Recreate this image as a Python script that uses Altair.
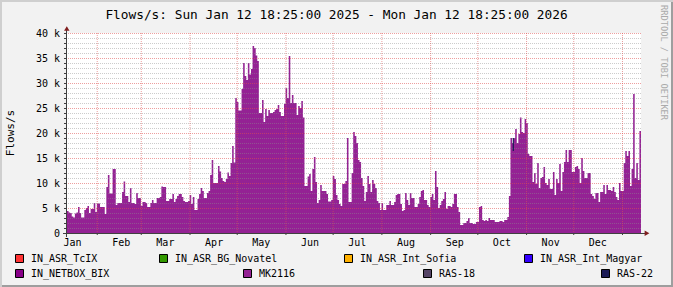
import altair as alt
import pandas as pd

# ---------------- data ----------------
TITLE = "Flows/s: Sun Jan 12 18:25:00 2025 - Mon Jan 12 18:25:00 2026"
Y_TITLE = "Flows/s"
WATERMARK = "RRDTOOL / TOBI OETIKER"

series_names = ["IN_ASR_TcIX", "IN_ASR_BG_Novatel", "IN_ASR_Int_Sofia", "IN_ASR_Int_Magyar",
                "IN_NETBOX_BIX", "MK2116", "RAS-18", "RAS-22"]
series_colors = ["#ff3333", "#339900", "#ffb000", "#3300ff",
                 "#880088", "#942294", "#554466", "#1a1a55"]

month_labels = ["Jan", "Feb", "Mar", "Apr", "May", "Jun",
                "Jul", "Aug", "Sep", "Oct", "Nov", "Dec"]
month_starts = ["2025-02-01T00:00:00", "2025-03-01T00:00:00", "2025-04-01T00:00:00",
                "2025-05-01T00:00:00", "2025-06-01T00:00:00", "2025-07-01T00:00:00",
                "2025-08-01T00:00:00", "2025-09-01T00:00:00", "2025-10-01T00:00:00",
                "2025-11-01T00:00:00", "2025-12-01T00:00:00", "2026-01-01T00:00:00"]
y_tick_k = [0, 5, 10, 15, 20, 25, 30, 35, 40]
y_tick_labels = ["0", "5 k", "10 k", "15 k", "20 k", "25 k", "30 k", "35 k", "40 k"]

# daily flows/s (thousands) for MK2116, starting Sun Jan 12 18:25 2025
mk2116_k = [
    4.4, 4.1, 4.0, 3.3, 3.1, 3.9, 4.1, 5.2, 4.0, 3.1, 3.1, 4.6, 5.0, 5.4, 4.0, 4.8,
    4.8, 6.0, 4.2, 5.9, 5.9, 5.2, 5.2, 5.2, 3.8, 9.2, 11.6, 7.9, 7.9, 12.8, 12.8, 5.6,
    6.0, 6.0, 6.0, 8.2, 10.3, 7.4, 7.4, 6.2, 9.0, 6.0, 6.0, 5.8, 8.0, 7.0, 7.0, 5.4,
    6.2, 6.2, 6.0, 5.2, 5.2, 6.0, 6.6, 6.0, 6.0, 7.0, 7.0, 7.2, 9.3, 9.2, 9.2, 6.4,
    6.4, 6.8, 6.8, 7.8, 6.2, 6.8, 7.4, 7.8, 7.8, 7.2, 6.4, 6.2, 6.2, 6.4, 7.6, 5.8,
    7.2, 4.6, 4.6, 6.8, 7.8, 9.0, 8.4, 7.0, 7.0, 8.0, 8.4, 11.6, 14.6, 10.0, 10.0, 10.0,
    13.4, 12.3, 11.0, 10.4, 10.2, 10.8, 12.1, 11.4, 14.0, 17.4, 14.1, 27.0, 26.2, 24.5, 24.5, 28.8,
    34.0, 31.4, 30.6, 34.0, 31.7, 32.8, 37.4, 37.0, 35.5, 34.4, 24.0, 24.0, 26.6, 22.2, 24.8, 23.4,
    24.6, 24.0, 24.0, 24.2, 24.6, 24.8, 25.6, 24.2, 23.4, 23.4, 25.8, 29.0, 27.0, 35.4, 26.0, 27.6,
    26.0, 26.0, 23.6, 25.4, 25.0, 26.4, 23.1, 9.4, 9.4, 11.3, 11.8, 8.4, 12.8, 15.2, 10.2, 6.0,
    6.6, 9.6, 8.4, 8.4, 8.4, 7.8, 6.3, 6.3, 6.6, 11.4, 10.8, 7.6, 6.6, 5.8, 5.4, 9.8,
    9.8, 10.4, 19.0, 6.2, 6.2, 12.0, 20.2, 19.4, 18.0, 14.6, 14.2, 11.0, 9.4, 6.4, 8.2, 11.4,
    9.8, 8.2, 10.6, 9.8, 9.0, 6.4, 6.0, 4.6, 6.0, 4.6, 4.6, 5.6, 5.6, 6.4, 5.6, 5.6,
    6.2, 7.6, 7.8, 7.8, 5.8, 4.4, 4.6, 8.0, 6.6, 5.6, 8.0, 7.0, 7.0, 5.2, 5.2, 5.8,
    7.2, 8.4, 8.6, 6.6, 6.6, 5.6, 5.2, 7.2, 7.8, 6.6, 12.4, 9.2, 5.0, 5.6, 6.4, 6.8,
    8.2, 4.8, 5.4, 5.4, 5.2, 5.8, 7.8, 7.8, 5.2, 4.2, 1.6, 1.6, 2.0, 2.0, 2.4, 3.0,
    2.0, 2.0, 1.8, 1.8, 2.2, 2.2, 5.2, 5.4, 2.6, 2.4, 2.6, 2.4, 3.0, 2.6, 2.6, 2.6,
    2.2, 2.2, 2.2, 2.4, 2.4, 2.2, 2.6, 2.6, 3.2, 7.4, 19.0, 18.0, 19.0, 20.8, 18.0, 19.8,
    23.1, 20.2, 20.0, 22.8, 22.0, 15.8, 15.4, 15.4, 10.2, 12.0, 9.8, 14.0, 9.0, 11.0, 11.2, 13.2,
    10.0, 9.6, 10.8, 8.8, 8.8, 12.2, 7.6, 10.8, 10.0, 13.8, 8.4, 12.2, 14.2, 16.6, 14.2, 16.6,
    16.6, 12.2, 12.2, 13.2, 13.4, 12.8, 10.0, 15.0, 12.4, 11.0, 11.0, 12.0, 12.0, 7.8, 7.4, 6.8,
    8.0, 8.0, 6.2, 8.2, 8.2, 9.6, 7.8, 9.6, 8.6, 8.6, 8.4, 9.2, 8.2, 7.2, 6.6, 10.0,
    8.4, 8.4, 14.0, 16.4, 15.4, 16.4, 9.4, 12.8, 27.8, 11.0, 14.0, 10.6, 20.4, 10.6,
]

# small RAS-22 contribution stacked on top (one sample)
ras22_time = ["2025-10-23T14:00:00"]
ras22_low_k = [16.4]
ras22_high_k = [19.0]

# ---------------- layout constants ----------------
W, H = 574, 200
PL, PT = 67, 33
FONT = "DejaVu Sans Mono"
AREA_COLOR = "#942294"

dates = pd.date_range("2025-01-12 18:25:00", periods=len(mk2116_k), freq="D")
df = pd.DataFrame({"date": dates.strftime("%Y-%m-%dT%H:%M:%S"),
                   "flows": [v * 1000 for v in mk2116_k]})

x_dom = [alt.DateTime(year=2025, month=1, date=12, hours=18, minutes=25),
         alt.DateTime(year=2026, month=1, date=12, hours=18, minutes=25)]
x_scale = alt.Scale(domain=x_dom)
y_scale = alt.Scale(domain=[0, 40000])

label_expr_x = "[" + ",".join("'%s'" % m for m in month_labels) + "][month(datum.value)]"
x_axis = alt.Axis(values=[alt.DateTime(year=2025, month=m, date=16) for m in range(1, 13)],
                  labelExpr=label_expr_x, ticks=False, domain=False, grid=False,
                  labelFont=FONT, labelFontSize=10, labelColor="black", labelPadding=4,
                  labelAngle=0, labelFlush=False, labelOverlap=False, labelBound=False, title=None)

area = alt.Chart(df).mark_area(interpolate="step-after", color=AREA_COLOR, opacity=1).encode(
    x=alt.X("date:T", scale=x_scale, axis=x_axis),
    y=alt.Y("flows:Q", scale=y_scale, axis=None),
)

ras22 = alt.Chart(pd.DataFrame({"t": ras22_time, "lo": [v * 1000 for v in ras22_low_k],
                                "hi": [v * 1000 for v in ras22_high_k]})).mark_rule(
    color=series_colors[7], strokeWidth=1.2).encode(
    x=alt.X("t:T", scale=x_scale), y=alt.Y("lo:Q", scale=y_scale), y2="hi:Q")

minor_vals = [v * 1000 for v in range(1, 40) if v % 5 != 0]
minor_grid = alt.Chart(pd.DataFrame({"v": minor_vals})).mark_rule(
    color="#8f8f8f", opacity=0.45, strokeDash=[1, 1], strokeWidth=1, yOffset=0.5).encode(
    y=alt.Y("v:Q", scale=y_scale))
major_grid = alt.Chart(pd.DataFrame({"v": [k * 1000 for k in y_tick_k[1:]]})).mark_rule(
    color="#de5050", opacity=0.55, strokeDash=[1, 1], strokeWidth=1, yOffset=0.5).encode(
    y=alt.Y("v:Q", scale=y_scale))
month_grid = alt.Chart(pd.DataFrame({"d": month_starts})).mark_rule(
    color="#de5050", opacity=0.55, strokeDash=[1, 1], strokeWidth=1).encode(
    x=alt.X("d:T", scale=x_scale))
month_ticks = alt.Chart(pd.DataFrame({"d": month_starts})).mark_rule(
    color="#404040", strokeWidth=1).encode(
    x=alt.X("d:T", scale=x_scale), y=alt.value(H), y2=alt.value(H + 2))

# y axis ticks (every 1 k) and labels (every 5 k)
y_ticks = alt.Chart(pd.DataFrame({"v": [v * 1000 for v in range(0, 41)]})).mark_rule(
    color="#404040", strokeWidth=1, yOffset=0.5).encode(
    y=alt.Y("v:Q", scale=y_scale), x=alt.value(-3), x2=alt.value(-1))
y_labels = alt.Chart(pd.DataFrame({"v": [k * 1000 for k in y_tick_k], "lab": y_tick_labels})).mark_text(
    font=FONT, fontSize=10, align="right", baseline="middle", color="black", yOffset=0.5).encode(
    y=alt.Y("v:Q", scale=y_scale), x=alt.value(60 - PL), text="lab:N")

one = alt.Data(values=[{"k": 0}])


def vx(px):
    return alt.value(px - PL)


def vy(py):
    return alt.value(py - PT)


layers = [area, minor_grid, major_grid, month_grid, ras22, month_ticks, y_ticks, y_labels]

# axis lines and arrows
layers.append(alt.Chart(one).mark_rule(color="#404040", strokeWidth=1).encode(
    x=vx(66.5), y=vy(29), y2=vy(237)))
layers.append(alt.Chart(one).mark_rule(color="#404040", strokeWidth=1).encode(
    x=vx(63), x2=vx(646), y=vy(233.5)))
layers.append(alt.Chart(one).mark_point(shape="triangle-up", filled=True, color="#801f1f",
                                        size=30, opacity=1).encode(x=vx(66.8), y=vy(28.5)))
layers.append(alt.Chart(one).mark_point(shape="triangle-right", filled=True, color="#801f1f",
                                        size=30, opacity=1).encode(x=vx(647), y=vy(233.3)))

# texts
layers.append(alt.Chart(one).mark_text(font=FONT, fontSize=12.8, align="center",
                                       baseline="alphabetic", color="black").encode(
    x=vx(336.5), y=vy(18.5), text=alt.value(TITLE)))
layers.append(alt.Chart(one).mark_text(font=FONT, fontSize=11, align="center", angle=270,
                                       baseline="middle", color="black").encode(
    x=vx(11), y=vy(133), text=alt.value(Y_TITLE)))
layers.append(alt.Chart(one).mark_text(font=FONT, fontSize=8.7, align="left", angle=90,
                                       baseline="middle", color="#aaaaaa").encode(
    x=vx(663.5), y=vy(5), text=alt.value(WATERMARK)))

# legend (two rows, justified as in rrdtool)
legend_x = [15, 159, 344, 524, 15, 243, 423, 601]
legend_y = [258.5, 258.5, 258.5, 258.5, 273.5, 273.5, 273.5, 273.5]
for name, col, lx, ly in zip(series_names, series_colors, legend_x, legend_y):
    layers.append(alt.Chart(one).mark_rect(color=col, stroke="black", strokeWidth=1).encode(
        x=vx(lx + 0.5), x2=vx(lx + 8.5), y=vy(ly - 4), y2=vy(ly + 4)))
    layers.append(alt.Chart(one).mark_text(font=FONT, fontSize=10, align="left",
                                           baseline="middle", color="black").encode(
        x=vx(lx + 16), y=vy(ly + 0.5), text=alt.value(name)))

# frame shading
layers.append(alt.Chart(one).mark_rect(color="#cfcfcf").encode(
    x=vx(0), x2=vx(673), y=vy(0), y2=vy(2)))
layers.append(alt.Chart(one).mark_rect(color="#cfcfcf").encode(
    x=vx(0), x2=vx(2), y=vy(0), y2=vy(287)))
layers.append(alt.Chart(one).mark_rect(color="#9e9e9e").encode(
    x=vx(2), x2=vx(673), y=vy(285), y2=vy(287)))
layers.append(alt.Chart(one).mark_rect(color="#9e9e9e").encode(
    x=vx(671), x2=vx(673), y=vy(2), y2=vy(287)))

chart = alt.layer(*layers).properties(
    width=W, height=H, autosize="none",
    padding={"left": PL, "top": PT, "right": 673 - PL - W, "bottom": 287 - PT - H},
    background="#f2f2f2",
).configure_view(stroke=None, fill="white")

chart.save("out.html", embed_options={"renderer": "svg", "actions": False})
